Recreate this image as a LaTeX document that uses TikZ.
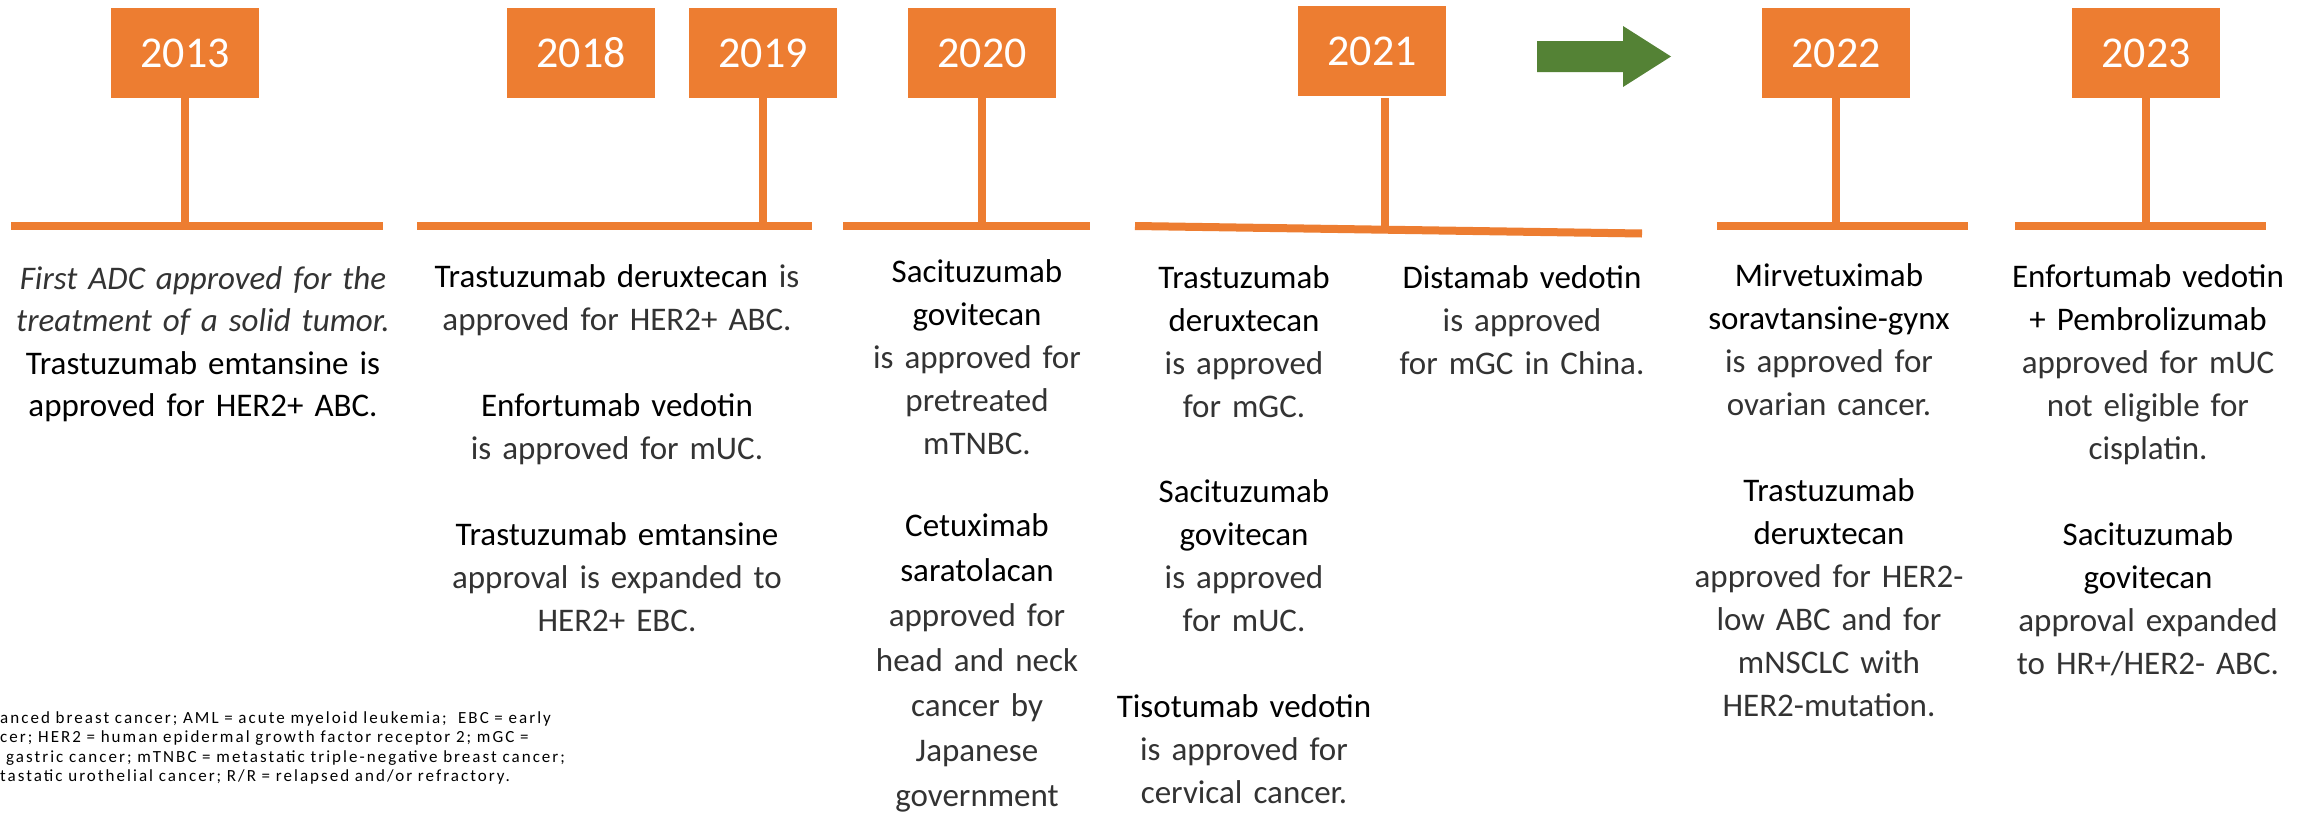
\documentclass[tikz,border=0pt]{standalone}
\usepackage{fontspec}
\setmainfont{Carlito}
\newfontfamily\notefont[LetterSpace=12]{Carlito}
\definecolor{tlorange}{HTML}{ED7D31}
\definecolor{tlgreen}{HTML}{548235}
\definecolor{lighttext}{HTML}{333333}
\newcommand{\nm}[1]{{\color{black}#1}}
\begin{document}
\begin{tikzpicture}[x=1pt,y=-1pt,
  yearbox/.style={fill=tlorange, text=white, minimum width=148pt, minimum height=90pt, inner sep=0pt, font=\fontsize{44}{50}\selectfont},
  tline/.style={draw=tlorange, line width=8pt},
  stemline/.style={draw=tlorange, line width=7.5pt},
  para/.style={anchor=base, text width=440pt, align=center, inner sep=0pt, font=\fontsize{33}{43}\selectfont, text=lighttext},
  paraw/.style={para, font=\fontsize{33}{45}\selectfont},
  paran/.style={para, font=\fontsize{33}{42.5}\selectfont},
  note/.style={anchor=base west, text width=800pt, align=left, inner sep=0pt, font=\notefont\fontsize{17}{19.5}\selectfont, text=black}]
\useasboundingbox (0,0) rectangle (2305,814);
\fill[white] (0,0) rectangle (2305,814);

% year boxes
\node[yearbox] (y2013) at (185,53) {2013};
\node[yearbox] (y2018) at (581,53) {2018};
\node[yearbox] (y2019) at (763,53) {2019};
\node[yearbox] (y2020) at (982,53) {2020};
\node[yearbox] (y2021) at (1372,51) {2021};
\node[yearbox] (y2022) at (1836,53) {2022};
\node[yearbox] (y2023) at (2146,53) {2023};

% timeline segments
\coordinate (l1a) at (11,226);   \coordinate (l1b) at (383,226);
\coordinate (l2a) at (417,226);  \coordinate (l2b) at (812,226);
\coordinate (l3a) at (843,226);  \coordinate (l3b) at (1090,226);
\coordinate (l4a) at (1135,226); \coordinate (l4b) at (1642,233.5);
\coordinate (l5a) at (1717,226); \coordinate (l5b) at (1968,226);
\coordinate (l6a) at (2015,226); \coordinate (l6b) at (2266,226);
\draw[tline] (l1a) -- (l1b);
\draw[tline] (l2a) -- (l2b);
\draw[tline] (l3a) -- (l3b);
\draw[tline] (l4a) -- (l4b);
\draw[tline] (l5a) -- (l5b);
\draw[tline] (l6a) -- (l6b);

% stems
\draw[stemline] (y2013.south) -- (y2013.south |- l1a);
\draw[stemline] (y2019.south) -- (y2019.south |- l2a);
\draw[stemline] (y2020.south) -- (y2020.south |- l3a);
\coordinate (s21a) at (1385,98);
\coordinate (s21b) at (1385,228);
\draw[stemline] (s21a) -- (s21b);
\draw[stemline] (y2022.south) -- (y2022.south |- l5a);
\draw[stemline] (y2023.south) -- (y2023.south |- l6a);

% green arrow
\fill[tlgreen] (1537,41) -- (1623,41) -- (1623,26) -- (1671,56.5) -- (1623,87) -- (1623,72) -- (1537,72) -- cycle;

% 2013
\node[paran] (t2013) at (203,289) {\textit{First ADC approved for the}\\\textit{treatment of a solid tumor.}\\\nm{Trastuzumab emtansine is}\\\nm{approved for HER2+ ABC.}};

% 2018/2019
\node[para] (t2018a) at (617,287) {\nm{Trastuzumab deruxtecan} is\\approved for HER2+ ABC.};
\node[para] (t2018b) at (617,416) {\nm{Enfortumab vedotin}\\is approved for mUC.};
\node[para] (t2018c) at (617,545) {\nm{Trastuzumab emtansine}\\approval is expanded to\\HER2+ EBC.};

% 2020
\node[para] (t2020a) at (977,282) {\nm{Sacituzumab}\\\nm{govitecan}\\is approved for\\pretreated\\mTNBC.};
\node[paraw] (t2020b) at (977,536) {\nm{Cetuximab}\\\nm{saratolacan}\\approved for\\head and neck\\cancer by\\Japanese\\government};

% 2021
\node[para] (t2021a) at (1244,288) {\nm{Trastuzumab}\\\nm{deruxtecan}\\is approved\\for mGC.};
\node[para] (t2021b) at (1244,502) {\nm{Sacituzumab}\\\nm{govitecan}\\is approved\\for mUC.};
\node[para] (t2021c) at (1244,717) {\nm{Tisotumab vedotin}\\is approved for\\cervical cancer.};
\node[para] (t2021d) at (1522,288) {\nm{Distamab vedotin}\\is approved\\for mGC in China.};

% 2022
\node[para] (t2022a) at (1829,286) {\nm{Mirvetuximab}\\\nm{soravtansine-gynx}\\is approved for\\ovarian cancer.};
\node[para] (t2022b) at (1829,501) {\nm{Trastuzumab}\\\nm{deruxtecan}\\approved for HER2-\\low ABC and for\\mNSCLC with\\HER2-mutation.};

% 2023
\node[para] (t2023a) at (2148,287) {\nm{Enfortumab vedotin}\\\nm{+ Pembrolizumab}\\approved for mUC\\not eligible for\\cisplatin.};
\node[para] (t2023b) at (2148,545) {\nm{Sacituzumab}\\\nm{govitecan}\\approval expanded\\to HR+/HER2- ABC.};

% footnote
\node[note] (fn) at (0,723) {anced breast cancer; AML = acute myeloid leukemia;\ \ EBC = early\\cer; HER2 = human epidermal growth factor receptor 2; mGC =\\\hspace*{6pt}gastric cancer; mTNBC = metastatic triple-negative breast cancer;\\tastatic urothelial cancer; R/R = relapsed and/or refractory.};
\end{tikzpicture}
\end{document}
